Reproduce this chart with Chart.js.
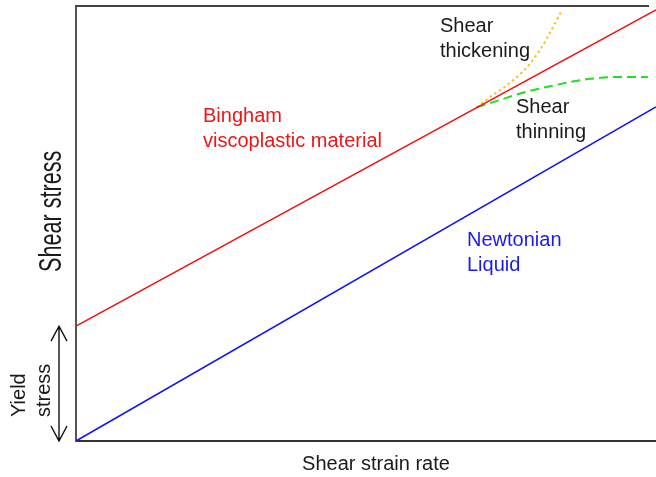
<!DOCTYPE html>
<html>
<head>
<meta charset="utf-8">
<script src="https://cdn.jsdelivr.net/npm/chart.js@4"></script>
<style>
  body { margin: 0; background: #fff; }
  #wrap { width: 656px; height: 477px; position: relative; }
</style>
</head>
<body>
<div id="wrap"><canvas id="chart"></canvas></div>
<script>
// values (x: shear strain rate 0-100, y: shear stress 0-100)
var newtonianX = [0, 100];
var newtonianY = [0, 76.8];
var binghamX = [0, 100];
var binghamY = [26.4, 99.1];
var thinningX = [69.1, 73.1, 76.9, 82.6, 88.3, 94.1, 98.6];
var thinningY = [76.7, 78.4, 80.0, 81.8, 83.2, 83.7, 83.7];
var thickeningX = [69.1, 71.4, 74.8, 77.8, 80.0, 81.7, 82.9, 83.6];
var thickeningY = [76.7, 79.1, 82.3, 86.0, 89.9, 93.8, 96.8, 98.6];

function pts(xs, ys) {
    return xs.map(function(x, i) { return { x: x, y: ys[i] }; });
}

var FONT = '"Liberation Sans", Arial, sans-serif';

var labelsPlugin = {
    id: "labels",
    afterDraw: function(chart) {
        var ctx = chart.ctx;
        var area = chart.chartArea;
        var yScale = chart.scales.y;
        ctx.save();

        // top frame line
        ctx.strokeStyle = "#444";
        ctx.lineWidth = 2;
        ctx.beginPath();
        ctx.moveTo(area.left - 1, area.top);
        ctx.lineTo(649, area.top);
        ctx.stroke();

        // yield stress double arrow
        var yTop = yScale.getPixelForValue(binghamY[0]);
        var yBot = yScale.getPixelForValue(0);
        var ax = 59;
        ctx.strokeStyle = "#111";
        ctx.lineWidth = 1.4;
        ctx.beginPath();
        ctx.moveTo(ax, yTop); ctx.lineTo(ax, yBot);
        ctx.moveTo(ax - 8, yTop + 15); ctx.lineTo(ax, yTop); ctx.lineTo(ax + 8, yTop + 15);
        ctx.moveTo(ax - 8, yBot - 15); ctx.lineTo(ax, yBot); ctx.lineTo(ax + 8, yBot - 15);
        ctx.stroke();

        ctx.textBaseline = "alphabetic";
        ctx.font = "20px " + FONT;

        ctx.fillStyle = "#ee1515";
        ctx.fillText("Bingham", 203, 122);
        ctx.fillText("viscoplastic material", 203, 147);

        ctx.fillStyle = "#1a1af0";
        ctx.fillText("Newtonian", 467, 246);
        ctx.fillText("Liquid", 467, 271);

        ctx.fillStyle = "#1a1a1a";
        ctx.fillText("Shear", 440, 32);
        ctx.fillText("thickening", 440, 57);
        ctx.fillText("Shear", 516, 113);
        ctx.fillText("thinning", 516, 138);

        ctx.textAlign = "center";
        ctx.fillText("Shear strain rate", 376, 470);

        // rotated labels
        ctx.textAlign = "left";
        ctx.save();
        ctx.translate(25, 417);
        ctx.rotate(-Math.PI / 2);
        ctx.fillText("Yield", 0, 0);
        ctx.restore();

        ctx.save();
        ctx.translate(50, 417);
        ctx.rotate(-Math.PI / 2);
        ctx.fillText("stress", 0, 0);
        ctx.restore();

        ctx.save();
        ctx.translate(61, 272);
        ctx.rotate(-Math.PI / 2);
        ctx.scale(0.675, 1);
        ctx.font = "32px " + FONT;
        ctx.fillText("Shear stress", 0, 0);
        ctx.restore();

        ctx.restore();
    }
};

var ctx = document.getElementById("chart").getContext("2d");
new Chart(ctx, {
    type: "scatter",
    data: {
        datasets: [
            {
                label: "Newtonian Liquid",
                data: pts(newtonianX, newtonianY),
                showLine: true,
                borderColor: "#1414f0",
                borderWidth: 1.6,
                pointRadius: 0
            },
            {
                label: "Bingham viscoplastic material",
                data: pts(binghamX, binghamY),
                showLine: true,
                borderColor: "#f01414",
                borderWidth: 1.6,
                pointRadius: 0
            },
            {
                label: "Shear thinning",
                data: pts(thinningX, thinningY),
                showLine: true,
                borderColor: "#22dd22",
                borderWidth: 2,
                borderDash: [9, 5],
                cubicInterpolationMode: "monotone",
                pointRadius: 0
            },
            {
                label: "Shear thickening",
                data: pts(thickeningX, thickeningY),
                showLine: true,
                borderColor: "#ffc020",
                borderWidth: 2,
                borderDash: [2.5, 3],
                cubicInterpolationMode: "monotone",
                pointRadius: 0
            }
        ]
    },
    options: {
        responsive: true,
        maintainAspectRatio: false,
        animation: false,
        layout: { padding: { left: 76, top: 6, right: 0, bottom: 36 } },
        plugins: {
            legend: { display: false },
            tooltip: { enabled: false }
        },
        scales: {
            x: {
                type: "linear",
                min: 0,
                max: 100,
                ticks: { display: false },
                grid: { display: false, drawTicks: false },
                border: { display: true, color: "#333", width: 2 },
                afterFit: function(s) { s.height = 0; }
            },
            y: {
                type: "linear",
                min: 0,
                max: 100,
                ticks: { display: false },
                grid: { display: false, drawTicks: false },
                border: { display: true, color: "#555", width: 2 },
                afterFit: function(s) { s.width = 0; }
            }
        }
    },
    plugins: [labelsPlugin]
});
</script>
</body>
</html>
